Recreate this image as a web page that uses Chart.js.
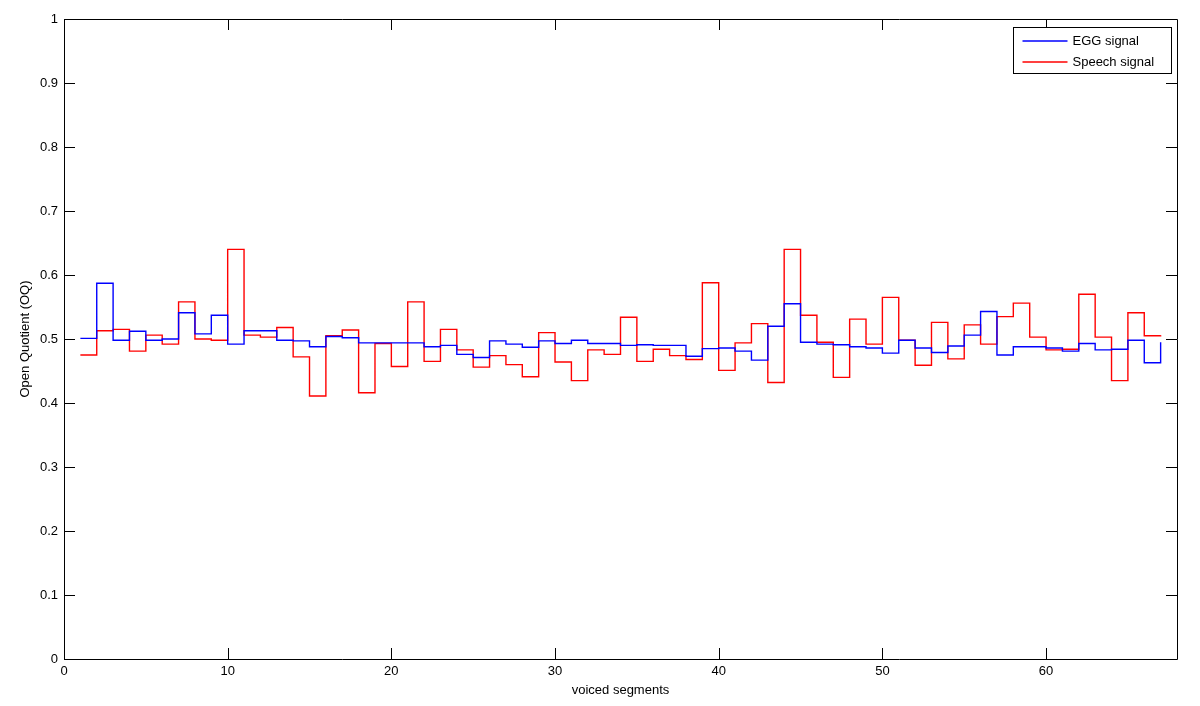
<!DOCTYPE html>
<html>
<head>
<meta charset="utf-8">
<title>Open Quotient per voiced segment</title>
<script src="https://cdn.jsdelivr.net/npm/chart.js@4.4.1/dist/chart.umd.min.js"></script>
<style>
  html, body { margin: 0; padding: 0; background: #fff; }
  #wrap { width: 1200px; height: 706px; position: relative; }
</style>
</head>
<body>
<div id="wrap"><canvas id="oq-chart"></canvas></div>
<script>
// Open quotient per voiced segment (stairs, one value per segment)
const eggSignal = [
  0.501, 0.587, 0.498, 0.512, 0.498, 0.500, 0.541, 0.508, 0.537, 0.492,
  0.513, 0.513, 0.498, 0.497, 0.488, 0.504, 0.502, 0.494, 0.494, 0.494,
  0.494, 0.488, 0.490, 0.476, 0.471, 0.497, 0.492, 0.487, 0.497, 0.493,
  0.498, 0.493, 0.493, 0.490, 0.491, 0.490, 0.490, 0.473, 0.485, 0.486,
  0.481, 0.467, 0.520, 0.555, 0.495, 0.492, 0.491, 0.488, 0.486, 0.478,
  0.498, 0.486, 0.479, 0.489, 0.506, 0.543, 0.475, 0.488, 0.488, 0.486,
  0.481, 0.493, 0.483, 0.484, 0.498, 0.463, 0.495
];

const speechSignal = [
  0.475, 0.513, 0.515, 0.481, 0.506, 0.492, 0.558, 0.500, 0.498, 0.640,
  0.506, 0.503, 0.518, 0.472, 0.411, 0.505, 0.514, 0.416, 0.493, 0.457,
  0.558, 0.465, 0.515, 0.483, 0.456, 0.474, 0.460, 0.441, 0.510, 0.464,
  0.435, 0.483, 0.476, 0.534, 0.465, 0.484, 0.474, 0.468, 0.588, 0.451,
  0.494, 0.524, 0.432, 0.640, 0.537, 0.495, 0.440, 0.531, 0.492, 0.565,
  0.498, 0.459, 0.526, 0.469, 0.522, 0.492, 0.535, 0.556, 0.503, 0.483,
  0.484, 0.570, 0.503, 0.435, 0.541, 0.505, 0.506
];

// segment numbers 1..N
const segments = eggSignal.map((_, i) => i + 1);

const xTicks = [0, 10, 20, 30, 40, 50, 60];
const yTicks = [0, 0.1, 0.2, 0.3, 0.4, 0.5, 0.6, 0.7, 0.8, 0.9, 1];

const seriesLabels = ['EGG signal', 'Speech signal'];
const seriesColors = ['#0000ff', '#ff0000'];

const FONT = '"Liberation Sans", Arial, Helvetica, sans-serif';

// MATLAB-style box: closed frame, inward ticks on all four sides, boxed legend
const matlabBox = {
  id: 'matlabBox',
  afterDatasetsDraw(chart) {
    const { ctx, chartArea: a, scales } = chart;
    const tickLen = 11;
    ctx.save();
    ctx.strokeStyle = '#000';
    ctx.lineWidth = 1;
    ctx.beginPath();
    ctx.rect(Math.round(a.left) + 0.5, Math.round(a.top) + 0.5,
      Math.round(a.width), Math.round(a.height));
    ctx.stroke();

    ctx.beginPath();
    scales.x.ticks.forEach(t => {
      const px = Math.round(scales.x.getPixelForValue(t.value)) + 0.5;
      ctx.moveTo(px, a.bottom);
      ctx.lineTo(px, a.bottom - tickLen);
      ctx.moveTo(px, a.top);
      ctx.lineTo(px, a.top + tickLen);
    });
    scales.y.ticks.forEach(t => {
      const py = Math.round(scales.y.getPixelForValue(t.value)) + 0.5;
      ctx.moveTo(a.left, py);
      ctx.lineTo(a.left + tickLen, py);
      ctx.moveTo(a.right, py);
      ctx.lineTo(a.right - tickLen, py);
    });
    ctx.stroke();

    // legend box in the top right corner
    const boxW = 158, boxH = 46;
    const bx = Math.round(a.right - 6 - boxW) + 0.5;
    const by = Math.round(a.top + 8) + 0.5;
    ctx.fillStyle = '#fff';
    ctx.fillRect(bx, by, boxW, boxH);
    ctx.strokeStyle = '#000';
    ctx.lineWidth = 1;
    ctx.strokeRect(bx, by, boxW, boxH);
    ctx.font = '13px ' + FONT;
    ctx.textBaseline = 'middle';
    chart.data.datasets.forEach((ds, i) => {
      const ly = Math.round(by + 13 + i * 21);
      ctx.strokeStyle = seriesColors[i];
      ctx.lineWidth = 1.5;
      ctx.beginPath();
      ctx.moveTo(bx + 9, ly);
      ctx.lineTo(bx + 54, ly);
      ctx.stroke();
      ctx.fillStyle = '#000';
      ctx.fillText(ds.label, bx + 59, ly);
    });
    ctx.restore();
  }
};

const toPoints = values => values.map((v, i) => ({ x: segments[i], y: v }));

new Chart(document.getElementById('oq-chart'), {
  type: 'line',
  data: {
    datasets: [
      {
        label: seriesLabels[0],
        data: toPoints(eggSignal),
        borderColor: seriesColors[0],
        borderWidth: 1.4,
        stepped: true,
        pointRadius: 0,
        fill: false
      },
      {
        label: seriesLabels[1],
        data: toPoints(speechSignal),
        borderColor: seriesColors[1],
        borderWidth: 1.4,
        stepped: true,
        pointRadius: 0,
        fill: false
      }
    ]
  },
  options: {
    responsive: true,
    maintainAspectRatio: false,
    animation: false,
    layout: {
      padding: { top: 19, right: 23, left: 0, bottom: 0 }
    },
    plugins: {
      legend: { display: false },
      tooltip: { enabled: false }
    },
    scales: {
      x: {
        type: 'linear',
        min: 0,
        max: 68,
        afterBuildTicks: scale => {
          scale.ticks = xTicks.map(v => ({ value: v }));
        },
        afterFit: scale => { scale.height = 47; },
        grid: { display: false, drawTicks: false },
        border: { display: false },
        ticks: {
          color: '#000',
          padding: 5,
          maxRotation: 0,
          font: { family: FONT, size: 13 },
          callback: v => String(v)
        },
        title: {
          display: true,
          text: 'voiced segments',
          color: '#000',
          padding: { top: 2, bottom: 8 },
          font: { family: FONT, size: 13 }
        }
      },
      y: {
        min: 0,
        max: 1,
        afterBuildTicks: scale => {
          scale.ticks = yTicks.map(v => ({ value: v }));
        },
        afterFit: scale => { scale.width = 64; },
        grid: { display: false, drawTicks: false },
        border: { display: false },
        ticks: {
          color: '#000',
          padding: 6,
          font: { family: FONT, size: 13 },
          callback: v => String(v)
        },
        title: {
          display: true,
          text: 'Open Quotient (OQ)',
          color: '#000',
          padding: { top: 18, bottom: 0 },
          font: { family: FONT, size: 13 }
        }
      }
    }
  },
  plugins: [matlabBox]
});
</script>
</body>
</html>
